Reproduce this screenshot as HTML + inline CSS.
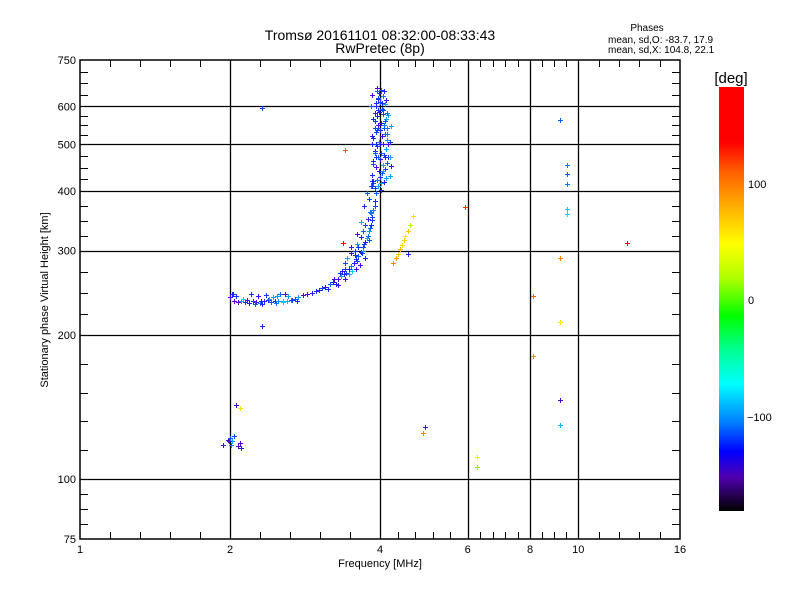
<!DOCTYPE html>
<html><head><meta charset="utf-8"><style>
html,body{margin:0;padding:0;background:#fff;}
svg{display:block;font-family:"Liberation Sans",sans-serif;}
</style></head><body>
<svg id="chart" width="800" height="600" viewBox="0 0 800 600" xmlns="http://www.w3.org/2000/svg">
<defs>
<linearGradient id="cbar" x1="0" y1="0" x2="0" y2="1">
<stop offset="0" stop-color="#ff0000"/><stop offset="0.13" stop-color="#ff0000"/>
<stop offset="0.2" stop-color="#ff6000"/><stop offset="0.3" stop-color="#ffc000"/>
<stop offset="0.37" stop-color="#ffff00"/><stop offset="0.45" stop-color="#b0ff00"/>
<stop offset="0.54" stop-color="#00ff00"/><stop offset="0.62" stop-color="#00ff90"/>
<stop offset="0.7" stop-color="#00ffff"/><stop offset="0.79" stop-color="#0080ff"/>
<stop offset="0.86" stop-color="#0000ff"/><stop offset="0.92" stop-color="#5000b0"/>
<stop offset="1" stop-color="#000000"/>
</linearGradient>
</defs>
<text x="380" y="40" font-size="14" text-anchor="middle">Tromsø 20161101 08:32:00-08:33:43</text>
<text x="380" y="53" font-size="14" text-anchor="middle">RwPretec (8p)</text>
<text x="647" y="31" font-size="10" text-anchor="middle">Phases</text>
<text x="608" y="43" font-size="10">mean, sd,O: -83.7, 17.9</text>
<text x="608" y="53" font-size="10">mean, sd,X: 104.8, 22.1</text>
<g id="grid"></g>
<g id="marks"></g>
<rect x="80" y="60" width="600" height="479" fill="none" stroke="#000" stroke-width="1.5"/>
<g id="ticks"></g>
<text x="380" y="567" font-size="11" text-anchor="middle">Frequency [MHz]</text>
<text transform="translate(48,300) rotate(-90)" font-size="11" text-anchor="middle">Stationary phase Virtual Height [km]</text>
<rect x="719" y="87" width="25" height="424" fill="url(#cbar)"/>
<text x="731" y="83" font-size="15" text-anchor="middle">[deg]</text>
<text x="748" y="188" font-size="11">100</text>
<text x="748" y="304" font-size="11">0</text>
<text x="747" y="421" font-size="11">−100</text>
</svg>
<script>
const xTickValues=[1,2,4,6,8,10,16];
const yTickValues=[75,100,200,300,400,500,600,750];
const xGridValues=[2,4,6,8,10];
const yGridValues=[100,200,300,400,500,600];
const freqs=[
2.00,2.02,2.04,2.06,2.10,2.12,2.14,2.18,2.20,2.22,
2.26,2.28,2.30,2.32,2.34,2.36,2.38,2.42,2.44,2.46,
2.48,2.50,2.52,2.55,2.58,2.60,2.65,2.66,2.70,2.74,
2.80,2.86,2.92,2.98,3.02,3.06,3.10,3.14,3.18,3.22,
3.26,3.30,3.34,3.38,3.42,3.46,3.50,3.54,3.58,3.62,
3.66,3.70,3.74,3.78,3.80,3.84,3.86,3.88,3.90,3.92,
3.30,3.40,3.52,3.60,3.68,3.76,3.82,3.86,3.90,3.36,
3.46,3.56,3.64,3.72,3.58,3.70,3.80,3.74,3.84,3.62,
3.90,3.96,4.02,3.88,4.08,3.94,4.00,4.12,3.86,4.04,
3.98,4.10,3.92,4.06,4.14,3.88,4.00,3.96,4.08,4.02,
3.90,4.12,3.94,4.06,3.98,4.14,3.88,4.04,4.10,3.92,
4.00,3.96,4.08,4.02,3.90,4.12,3.94,4.06,3.98,4.04,
3.92,4.10,4.00,3.96,4.06,3.98,4.02,3.94,4.04,3.96,
4.08,4.00,3.92,4.06,3.88,4.10,4.16,4.14,3.86,3.90,
4.25,4.30,4.34,4.38,4.42,4.46,4.50,4.55,4.60,4.65,
2.32,3.40,3.37,5.93,4.55,2.32,2.06,2.09,4.93,4.88,
1.94,1.98,2.00,2.02,1.99,2.04,2.08,2.10,2.09,2.01,
6.27,6.27,8.1,8.1,9.2,9.5,9.5,9.5,9.5,9.5,
9.2,9.2,9.2,9.2,12.5,
3.84,3.86,4.18,4.20,3.88,4.16,3.90,4.12,3.92,4.18,
3.86,4.14,3.94,4.20,3.96,4.10,3.88,4.16,3.90,4.06,
3.84,4.18,3.92,4.12,3.96,4.14,3.86,4.08,3.94,4.02,
3.24,3.32,3.40,3.44,3.50,3.56,3.60,3.66,3.70,3.74,
3.78,3.82,3.72,3.66,3.80,3.86,3.76,3.60,3.50,3.40,
2.03,2.08,2.16,2.24,2.31,2.40,2.47,2.56,2.62,2.72];
const heights=[
240,243,236,241,236,238,234,233,244,235,
234,241,233,232,236,242,237,234,240,235,
241,236,244,235,243,236,237,237,238,240,
242,243,245,247,248,251,252,250,255,258,
256,262,265,268,270,275,278,283,288,292,
298,305,312,322,330,340,352,365,380,395,
254,262,272,285,296,318,335,348,372,272,
268,294,280,310,275,300,315,290,360,305,
405,410,402,415,418,422,428,425,432,436,
440,444,448,452,458,462,466,470,475,480,
485,490,495,500,505,510,515,520,526,530,
536,542,548,555,560,566,572,578,585,592,
600,606,614,622,630,640,648,655,610,590,
540,500,470,440,420,470,500,540,500,540,
283,290,295,302,308,316,322,330,340,355,
596,487,311,370,295,209,143,141,128.6,125,
118,121,122,120,120,123,117,116,119,118,
111,106,241,181,563,453,434,413,367,357,
290,213,146,130,311,
410,420,430,450,455,470,480,490,500,505,
520,525,535,545,550,560,565,575,580,590,
600,470,610,620,625,580,635,645,645,415,
262,270,282,290,296,300,310,320,330,340,
350,362,372,345,385,410,395,325,305,275,
244,234,237,232,235,238,233,234,241,236];
const phases=[
-120,-110,-130,-95,-60,-50,-100,-110,-100,-90,
-120,-110,-70,-100,-105,-95,-100,-80,-60,-120,
-60,-65,-75,-60,-120,-55,-70,-90,-85,-60,
-130,-120,-110,-100,-120,-90,-130,-100,-80,-110,
-100,-120,-60,-110,-90,-100,-70,-110,-100,-80,
-100,-90,-110,-80,-60,-100,-90,-70,-100,-80,
-110,-120,-50,-90,-100,-60,-80,-100,-90,-110,
-60,-100,-120,-90,-110,-60,-85,-100,-70,-95,
-90,-60,-100,-80,-110,-70,-95,-60,-100,-85,
-100,-90,-120,-60,-80,-100,-110,-70,-95,-85,
-110,-55,-90,-100,-70,-60,-100,-120,-80,-90,
-100,-85,-70,-110,-95,-60,-100,-90,-120,-80,
-100,-60,-90,-110,-70,-100,-85,-120,-95,-100,
-80,-110,-90,-60,-100,-95,-120,-70,-100,-85,
130,120,110,115,100,105,95,110,60,100,
-90,140,170,150,-100,-100,-130,100,-110,130,
-110,-130,-80,-60,-100,-90,-120,-110,-130,-70,
80,50,140,130,-80,-70,-80,-70,-50,-45,
130,100,-120,-55,170,
-70,-100,-60,-110,-90,-120,-80,-60,-100,-95,
-110,-70,-90,-60,-120,-85,-100,-60,-110,-90,
-80,-60,-100,-110,-90,-70,-120,-100,-80,-60,
-120,-100,-90,-60,-110,-100,-60,-100,-80,-90,
-110,-70,-100,-60,-90,-100,-80,-120,-110,-95,
-100,-130,-120,-80,-110,-60,-70,-50,-60,-100];

const NS='http://www.w3.org/2000/svg';
function xs(f){return 80+150*Math.log2(f);}
function ys(h){return 539-479*Math.log10(h/75);}
const cstops=[[-180,0,0,0],[-150,70,0,140],[-125,90,0,230],[-100,20,40,255],[-70,0,120,255],[-45,0,230,255],[0,0,255,150],[25,0,255,0],[60,180,255,0],[90,255,255,0],[115,255,180,0],[145,255,80,0],[165,255,0,0],[180,255,0,0]];
function color(p){
  for(let i=0;i<cstops.length-1;i++){const a=cstops[i],b=cstops[i+1];
    if(p<=b[0]){const t=Math.max(0,(p-a[0])/(b[0]-a[0]));
      return 'rgb('+Math.round(a[1]+t*(b[1]-a[1]))+','+Math.round(a[2]+t*(b[2]-a[2]))+','+Math.round(a[3]+t*(b[3]-a[3]))+')';}}
  return 'rgb(255,0,0)';
}
function mk(tag,attrs,parent){const e=document.createElementNS(NS,tag);for(const k in attrs)e.setAttribute(k,attrs[k]);parent.appendChild(e);return e;}
const grid=document.getElementById('grid'),ticks=document.getElementById('ticks'),marks=document.getElementById('marks');
xGridValues.forEach(v=>{const x=Math.round(xs(v))+0.5;
  const l=mk('line',{x1:x,y1:60,x2:x,y2:539,stroke:'#000','stroke-width':1.3},grid);
  
  });
yGridValues.forEach(v=>{const y=Math.round(ys(v))+0.5;
  const l=mk('line',{x1:80,y1:y,x2:680,y2:y,stroke:'#000','stroke-width':1.3},grid);
  
  });
for(let i=0;i<xTickValues.length-1;i++){
  const a=xs(xTickValues[i]),b=xs(xTickValues[i+1]);const n=(b-a)>60?5:4;
  for(let k=1;k<n;k++){const x=Math.round(a+(b-a)*k/n)+0.5;
    const t1=mk('line',{x1:x,y1:539,x2:x,y2:532,stroke:'#000'},ticks);
    
    
    const t2=mk('line',{x1:x,y1:60,x2:x,y2:67,stroke:'#000'},ticks);
    
    }
}
for(let i=0;i<yTickValues.length-1;i++){
  const a=ys(yTickValues[i]),b=ys(yTickValues[i+1]);const n=(a-b)>100?5:4;
  for(let k=1;k<n;k++){const y=Math.round(a+(b-a)*k/n)+0.5;
    const t1=mk('line',{x1:680,y1:y,x2:672,y2:y,stroke:'#000'},ticks);
    
    
    const t2=mk('line',{x1:80,y1:y,x2:88,y2:y,stroke:'#000'},ticks);
    
    }
}
xTickValues.forEach(v=>{const t=mk('text',{x:xs(v),y:553,'font-size':11,'text-anchor':'middle'},ticks);t.textContent=v;
  
  });
yTickValues.forEach(v=>{const t=mk('text',{x:76,y:ys(v)+4,'font-size':11,'text-anchor':'end'},ticks);t.textContent=v;
  
  });
for(let i=0;i<freqs.length;i++){
  const x=Math.round(xs(freqs[i])),y=Math.round(ys(heights[i]));const c=color(phases[i]);
  const g=mk('g',{fill:c},marks);
  
  
  mk('rect',{x:x-2,y:y,width:5,height:1},g);
  mk('rect',{x:x,y:y-2,width:1,height:5},g);
}
</script>
</body></html>
